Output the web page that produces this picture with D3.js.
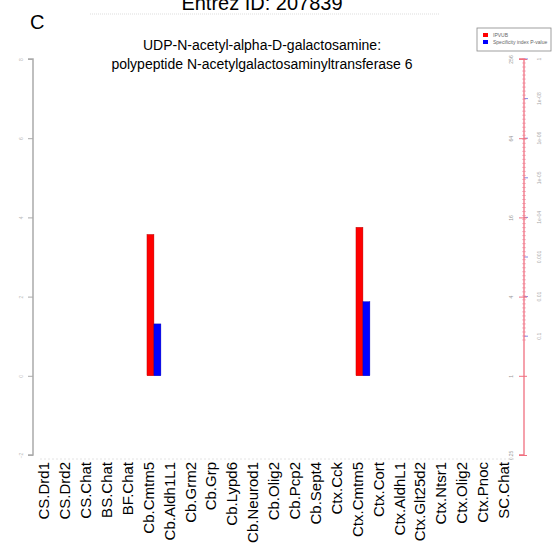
<!DOCTYPE html>
<html><head><meta charset="utf-8">
<script src="https://cdn.jsdelivr.net/npm/d3@7"></script>
<style>body{margin:0;background:#fff}svg{display:block;font-family:"Liberation Sans",Arial,sans-serif}</style>
</head><body><svg id="c" width="553" height="549"></svg>
<script>
const labels=["CS.Drd1","CS.Drd2","CS.Chat","BS.Chat","BF.Chat","Cb.Cmtm5","Cb.Aldh1L1","Cb.Grm2","Cb.Grp","Cb.Lypd6","Cb.Neurod1","Cb.Olig2","Cb.Pcp2","Cb.Sept4","Ctx.Cck","Ctx.Cmtm5","Ctx.Cort","Ctx.AldhL1","Ctx.Glt25d2","Ctx.Ntsr1","Ctx.Olig2","Ctx.Pnoc","SC.Chat"];
const ipvub=[0,0,0,0,0,3.57,0,0,0,0,0,0,0,0,0,3.75,0,0,0,0,0,0,0];
const specificity=[1,1,1,1,1,2.48,1,1,1,1,1,1,1,1,1,3.66,1,1,1,1,1,1,1];
const leftTicks=[-2,0,2,4,6,8];
const rightTicks=[0.25,1,4,16,64,256];
const rightTickLabels=["0.25","1","4","16","64","256"];
const pLabels=["0.1","0.01","0.001","1e-04","1e-05","1e-06","1e-08","1"];
const seriesNames=["IPVUB","Specificity index P-value"];
const seriesColors=["#ff0000","#0000ff"];

(function(){
const svg=d3.select("#c");
const yTop=59,yBot=455;
const yL=d3.scaleLinear().domain([-2,8]).range([yBot,yTop]);
const yR=d3.scaleLog().base(2).domain([0.25,256]).range([yBot,yTop]);
const n=labels.length;
const bx=d3.scaleLinear().domain([0,n]).range([35.5,35.5+n*20.9]);
const lx=d3.scalePoint().domain(labels).range([44,44+(n-1)*20.9]);

// titles
svg.append("text").attr("x",262).attr("y",10).attr("text-anchor","middle").attr("font-size",20).text("Entrez ID: 207839");
svg.append("text").attr("x",30).attr("y",29).attr("font-size",20).text("C");
svg.append("line").attr("x1",90).attr("x2",440).attr("y1",14).attr("y2",14).attr("stroke","#ddd").attr("stroke-dasharray","1,1").attr("stroke-width",1);
svg.append("text").attr("x",262).attr("y",50).attr("text-anchor","middle").attr("font-size",14).text("UDP-N-acetyl-alpha-D-galactosamine:");
svg.append("text").attr("x",262).attr("y",69).attr("text-anchor","middle").attr("font-size",14).text("polypeptide N-acetylgalactosaminyltransferase 6");

// left axis
const gL=svg.append("g").attr("transform","translate(33,0)");
gL.call(d3.axisLeft(yL).tickValues(leftTicks).tickSize(5).tickFormat(d3.format("d")));
gL.select(".domain").attr("stroke","#aaa").attr("stroke-width",1.5).attr("d",`M-5,${yL(-2)}H0V${yL(8)}H-5`);
gL.selectAll(".tick line").attr("stroke","#aaa");
gL.selectAll(".tick text").attr("font-size",5).attr("fill","#bbb").attr("x",0).attr("dy",0)
  .attr("transform","translate(-10,0) rotate(-90)").attr("text-anchor","middle");

// right axis
const ax=524;
const pY=d3.scalePoint().domain(pLabels).range([yR(1)-39.6,yTop]);
const minor=d3.scaleLinear().domain([0,70]).range([340,yTop]);
svg.append("g").selectAll("line").data(d3.range(71)).join("line")
  .attr("x1",ax-2).attr("x2",ax+2).attr("y1",d=>minor(d)).attr("y2",d=>minor(d))
  .attr("stroke","#f3a0b8").attr("stroke-width",0.7);
svg.append("g").selectAll("line").data(pLabels).join("line")
  .attr("x1",ax).attr("x2",ax+4).attr("y1",d=>pY(d)).attr("y2",d=>pY(d))
  .attr("stroke","#6a6ae0").attr("stroke-width",0.8);
const gR=svg.append("g").attr("transform",`translate(${ax},0)`);
gR.call(d3.axisLeft(yR).tickValues(rightTicks).tickSize(5).tickFormat((d,i)=>rightTickLabels[i]));
gR.select(".domain").attr("stroke","#f07080").attr("stroke-width",1.3).attr("d",`M-5,${yR(0.25)}H0V${yR(256)}H-5`);
gR.selectAll(".tick line").attr("stroke","#f07080").attr("x2",-5).attr("x1",3);
gR.selectAll(".tick text").attr("font-size",5).attr("fill","#999").attr("x",0).attr("dy",0)
  .attr("transform","translate(-11,0) rotate(-90)").attr("text-anchor","middle");
svg.append("g").selectAll("text").data(pLabels).join("text")
  .attr("transform",d=>`translate(${ax+17},${pY(d)}) rotate(-90)`)
  .attr("text-anchor","middle").attr("font-size",5).attr("fill","#aaa").text(d=>d);

// faint bottom line
svg.append("line").attr("x1",40).attr("x2",515).attr("y1",459).attr("y2",459).attr("stroke","#e4e4e4").attr("stroke-dasharray","2,2");

// bars
const gB=svg.append("g");
gB.selectAll("rect.r").data(labels.map((c,i)=>({i,v:ipvub[i]})).filter(d=>d.v>0)).join("rect")
  .attr("x",d=>bx(d.i+1/3)).attr("width",d=>bx(d.i+2/3)-bx(d.i+1/3))
  .attr("y",d=>yL(d.v)).attr("height",d=>yL(0)-yL(d.v))
  .attr("fill",seriesColors[0]).attr("stroke","#a00").attr("stroke-width",0.4);
gB.selectAll("rect.b").data(labels.map((c,i)=>({i,v:specificity[i]})).filter(d=>d.v>1)).join("rect")
  .attr("x",d=>bx(d.i+2/3)).attr("width",d=>bx(d.i+1)-bx(d.i+2/3))
  .attr("y",d=>yR(d.v)).attr("height",d=>yR(1)-yR(d.v))
  .attr("fill",seriesColors[1]).attr("stroke","#00a").attr("stroke-width",0.4);

// x labels
svg.append("g").selectAll("text").data(labels).join("text")
  .attr("transform",d=>`translate(${lx(d)},462) rotate(-90)`)
  .attr("text-anchor","end").attr("dy","0.35em").attr("font-size",15).text(d=>d);

// legend
const lg=svg.append("g").attr("transform","translate(477,28)");
lg.append("rect").attr("width",74).attr("height",23).attr("fill","#fff").attr("stroke","#888").attr("stroke-width",0.8);
seriesNames.forEach((s,i)=>{
  lg.append("rect").attr("x",6).attr("y",5+i*7).attr("width",5).attr("height",4).attr("fill",seriesColors[i]);
  lg.append("text").attr("x",16).attr("y",9+i*7).attr("font-size",5).attr("fill","#666").text(s);
});
})();
</script></body></html>
